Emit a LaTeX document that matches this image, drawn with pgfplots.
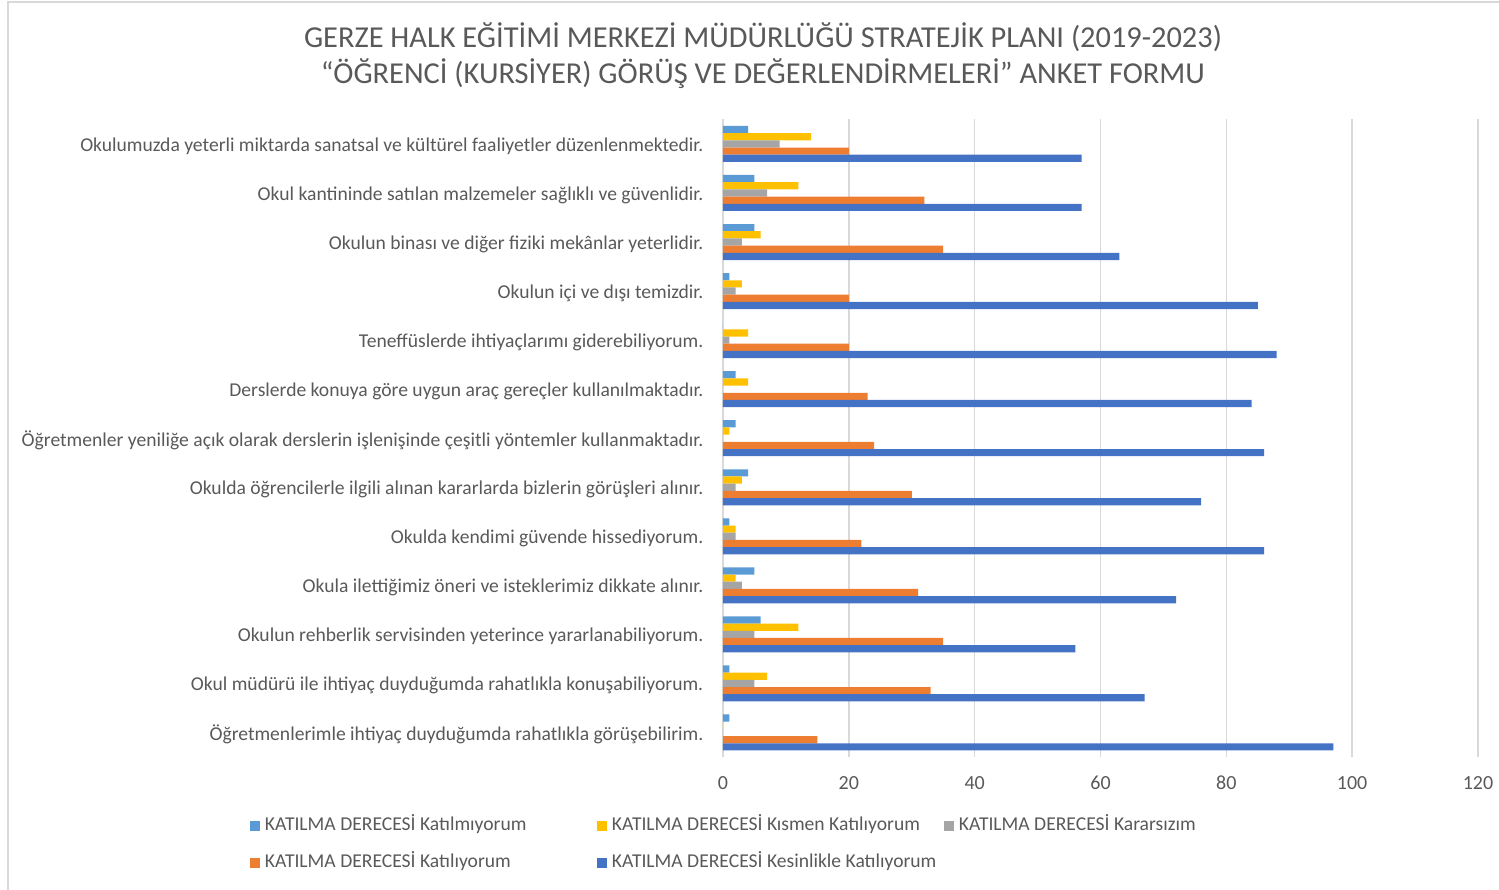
\documentclass[border=0pt]{standalone}
\usepackage{fontspec}
\setmainfont{Carlito}
\usepackage{pgfplots}
\pgfplotsset{compat=1.18}
\definecolor{cA}{HTML}{5B9BD5}
\definecolor{cB}{HTML}{FFC000}
\definecolor{cC}{HTML}{A5A5A5}
\definecolor{cD}{HTML}{ED7D31}
\definecolor{cE}{HTML}{4472C4}
\definecolor{txt}{HTML}{595959}
\definecolor{grd}{HTML}{D9D9D9}
\begin{document}
\begin{tikzpicture}
\path[use as bounding box] (0,0) rectangle (749.5pt,-444.5pt);
\draw[grd, line width=0.8pt] (4pt,-450pt) -- (4pt,-0.9pt) -- (760pt,-0.9pt);
\node[txt, align=center, font=\fontsize{15.2}{18}\selectfont] at (381.5pt,-28pt)
  {GERZE HALK EĞİTİMİ MERKEZİ MÜDÜRLÜĞÜ STRATEJİK PLANI (2019-2023)\\“ÖĞRENCİ (KURSİYER) GÖRÜŞ VE DEĞERLENDİRMELERİ” ANKET FORMU};
\begin{axis}[
  at={(361.5pt,-378.5pt)}, anchor=south west,
  scale only axis, width=377.5pt, height=318.8pt,
  xbar, bar width=3.6pt,
  xmin=0, xmax=120, ymin=-0.5, ymax=12.5,
  xtick={0,20,...,120},
  ytick={0,...,12},
  yticklabels={
    Öğretmenlerimle ihtiyaç duyduğumda rahatlıkla görüşebilirim.,
    Okul müdürü ile ihtiyaç duyduğumda rahatlıkla konuşabiliyorum.,
    Okulun rehberlik servisinden yeterince yararlanabiliyorum.,
    Okula ilettiğimiz öneri ve isteklerimiz dikkate alınır.,
    Okulda kendimi güvende hissediyorum.,
    Okulda öğrencilerle ilgili alınan kararlarda bizlerin görüşleri alınır.,
    Öğretmenler yeniliğe açık olarak derslerin işlenişinde çeşitli yöntemler kullanmaktadır.,
    Derslerde konuya göre uygun araç gereçler kullanılmaktadır.,
    Teneffüslerde ihtiyaçlarımı giderebiliyorum.,
    Okulun içi ve dışı temizdir.,
    Okulun binası ve diğer fiziki mekânlar yeterlidir.,
    Okul kantininde satılan malzemeler sağlıklı ve güvenlidir.,
    Okulumuzda yeterli miktarda sanatsal ve kültürel faaliyetler düzenlenmektedir.},
  major tick length=0pt,
  axis line style={draw=none},
  xmajorgrids, grid style={grd, line width=0.8pt},
  /pgf/number format/assume math mode=true,
  xticklabel style={txt, font=\fontsize{10}{12}\selectfont, yshift=-6pt},
  yticklabel style={txt, font=\fontsize{9.8}{11}\selectfont, anchor=east, xshift=-6.3pt, yshift=-1pt},
  legend columns=3,
  legend style={at={(-0.6265,-0.094)}, anchor=north west, draw=none, fill=none,
    inner sep=0pt, outer sep=0pt, row sep=9.5pt,
    font=\fontsize{9.8}{11}\selectfont, text=txt,
    nodes={inner sep=0pt, anchor=west, text height=7pt, text depth=2pt},
    /tikz/every odd column/.style={column sep=2.5pt}},
  legend image code/.code={\fill[#1] (0pt,-2.5pt) rectangle (5pt,2.5pt);},
]
\addplot[draw=none, fill=cA, bar shift=7.2pt] coordinates {
(1,0) (1,1) (6,2) (5,3) (1,4) (4,5) (2,6) (2,7) (0,8) (1,9) (5,10) (5,11) (4,12)};
\addlegendentry{\makebox[166pt][l]{KATILMA DERECESİ Katılmıyorum}}
\addplot[draw=none, fill=cB, bar shift=3.6pt] coordinates {
(0,0) (7,1) (12,2) (2,3) (2,4) (3,5) (1,6) (4,7) (4,8) (3,9) (6,10) (12,11) (14,12)};
\addlegendentry{\makebox[166pt][l]{KATILMA DERECESİ Kısmen Katılıyorum}}
\addplot[draw=none, fill=cC, bar shift=0pt] coordinates {
(0,0) (5,1) (5,2) (3,3) (2,4) (2,5) (0,6) (0,7) (1,8) (2,9) (3,10) (7,11) (9,12)};
\addlegendentry{\makebox[166pt][l]{KATILMA DERECESİ Kararsızım}}
\addplot[draw=none, fill=cD, bar shift=-3.6pt] coordinates {
(15,0) (33,1) (35,2) (31,3) (22,4) (30,5) (24,6) (23,7) (20,8) (20,9) (35,10) (32,11) (20,12)};
\addlegendentry{\makebox[166pt][l]{KATILMA DERECESİ Katılıyorum}}
\addplot[draw=none, fill=cE, bar shift=-7.2pt] coordinates {
(97,0) (67,1) (56,2) (72,3) (86,4) (76,5) (86,6) (84,7) (88,8) (85,9) (63,10) (57,11) (57,12)};
\addlegendentry{\makebox[166pt][l]{KATILMA DERECESİ Kesinlikle Katılıyorum}}
\end{axis}
\end{tikzpicture}
\end{document}
